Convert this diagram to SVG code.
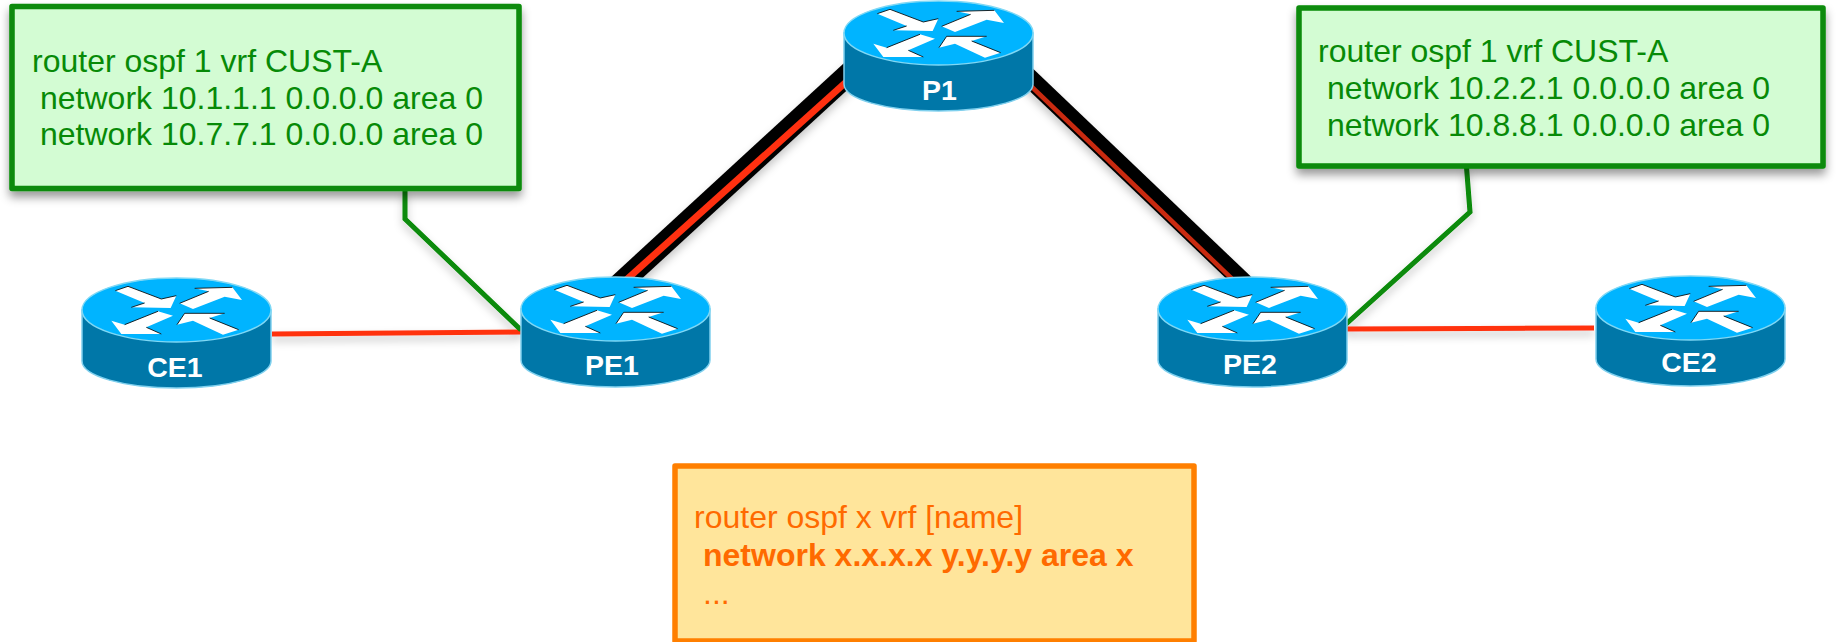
<svg xmlns="http://www.w3.org/2000/svg" xmlns:xlink="http://www.w3.org/1999/xlink" width="1837" height="642" viewBox="0 0 1837 642">
<style>
text{font-family:"Liberation Sans",Arial,sans-serif}
.g{font-size:32px;fill:#078a07}
.o{font-size:32px;fill:#ff6a00}
.l{font-size:28.5px;font-weight:bold;fill:#fff;text-anchor:middle}
.box{stroke-width:5.5;stroke-linejoin:round}
.wire{fill:none;stroke-linejoin:miter}
</style>
<defs>
<filter id="sh" x="-10%" y="-10%" width="120%" height="130%"><feDropShadow dx="0" dy="6" stdDeviation="5" flood-color="#000" flood-opacity=".4"/></filter>
<filter id="shl" filterUnits="userSpaceOnUse" x="0" y="0" width="1837" height="642"><feDropShadow dx="0" dy="5" stdDeviation="4" flood-color="#000" flood-opacity=".22"/></filter>
<g id="router">
<path d="M0,32V83C0,98 42,110 94.500,110S189,98 189,83V32Z" fill="#0077a8" stroke="#7fd0ee" stroke-width="1.500"/>
<ellipse cx="94.500" cy="32" rx="94.500" ry="32" fill="#00b4ff" stroke="#7fd8f5" stroke-width="1.500"/>
<g transform="translate(-24,-.67) scale(.3333)">
<path d="M172,40L210,27L310,65L355,55L338,92L220,90L260,77ZM365,78L452,42L410,33L523,30L552,68L500,58L405,95ZM160,130L200,142L300,102L345,115L265,150L310,170L190,170ZM357,142L380,108L500,108L455,122L542,157L495,172L405,130Z" fill="#fff"/>
<path d="M172,40L210,27L310,65L355,55M220,90L260,77M365,78L452,42M410,33L523,30M200,142L300,102M265,150L310,170M357,142L380,108L500,108M455,122L542,157" fill="none" stroke="#000" stroke-width="2.500"/>
</g>
</g>
</defs>
<rect width="1837" height="642" fill="#fff"/>
<g id="connectors">
<g class="wire">
<g filter="url(#shl)">
<path d="M860,63.300L610,293" stroke="#000" stroke-width="22"/>
<path d="M1010,59.500L1260,298" stroke="#000" stroke-width="18.500"/>
</g>
<path d="M860,69.500L615,290" stroke="#ff3010" stroke-width="6.800"/>
<path d="M1010,66L1260,305.600" stroke="#c92a10" stroke-width="4.600"/>
<g filter="url(#shl)">
<path d="M272,334L521,332" stroke="#ff3010" stroke-width="5"/>
<path d="M1345,329L1594,328" stroke="#ff3010" stroke-width="5"/>
<path d="M405,190V219L521,330" stroke="#078a07" stroke-width="5"/>
<path d="M1466.500,167L1470,212L1345,325" stroke="#078a07" stroke-width="5"/>
</g>
</g>
</g>
<g id="P1"><use href="#router" transform="translate(844,1)"/><text class="l" x="939.500" y="100">P1</text></g>
<g id="PE1"><use href="#router" transform="translate(521,277)"/><text class="l" x="612" y="375">PE1</text></g>
<g id="PE2"><use href="#router" transform="translate(1158,277)"/><text class="l" x="1250" y="374">PE2</text></g>
<g id="CE1"><use href="#router" transform="translate(82,278)"/><text class="l" x="175" y="377">CE1</text></g>
<g id="CE2"><use href="#router" transform="translate(1596,276)"/><text class="l" x="1689" y="372">CE2</text></g>
<g id="config-left">
<rect class="box" x="12" y="6.500" width="507" height="182" fill="#d3fcd3" stroke="#078a07" filter="url(#sh)"/>
<text class="g" x="32" y="72">router ospf 1 vrf CUST-A</text>
<text class="g" x="40" y="108.500">network 10.1.1.1 0.0.0.0 area 0</text>
<text class="g" x="40" y="145">network 10.7.7.1 0.0.0.0 area 0</text>
</g>
<g id="config-right">
<rect class="box" x="1299" y="8" width="524" height="158" fill="#d3fcd3" stroke="#078a07" filter="url(#sh)"/>
<text class="g" x="1318" y="62">router ospf 1 vrf CUST-A</text>
<text class="g" x="1327" y="99">network 10.2.2.1 0.0.0.0 area 0</text>
<text class="g" x="1327" y="136">network 10.8.8.1 0.0.0.0 area 0</text>
</g>
<g id="config-template">
<rect class="box" x="675" y="466" width="519" height="175" fill="#ffe59b" stroke="#ff7f00"/>
<text class="o" x="694" y="528">router ospf x vrf [name]</text>
<text class="o" x="703" y="566" font-weight="bold">network x.x.x.x y.y.y.y area x</text>
<text class="o" x="703" y="604">...</text>
</g>
</svg>
